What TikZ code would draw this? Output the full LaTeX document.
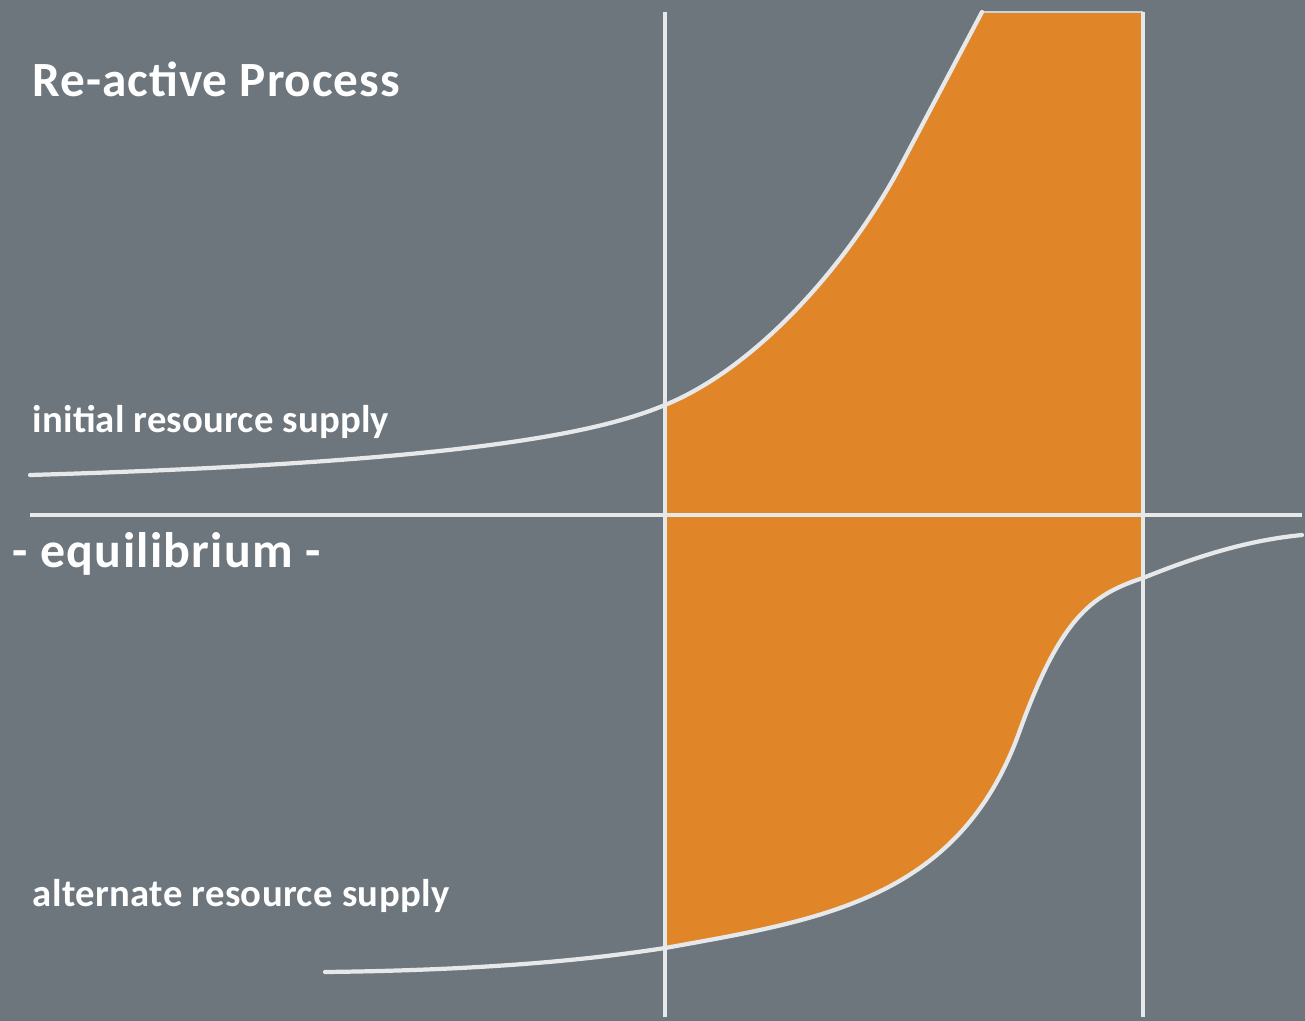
\documentclass[tikz,border=0pt]{standalone}
\usepackage{fontspec}
\setmainfont{Carlito}
\newfontfamily\titlefont[LetterSpace=2]{Carlito}
\newfontfamily\eqfont[LetterSpace=2.5]{Carlito}
\newfontfamily\labelfont[LetterSpace=0.5]{Carlito}
\newfontfamily\altfont[LetterSpace=1]{Carlito}
\definecolor{slate}{HTML}{6E767D}
\definecolor{amber}{HTML}{E08628}
\definecolor{rule}{HTML}{E6E8E9}
\begin{document}
\begin{tikzpicture}[x=0.01cm,y=-0.01cm,
  axis/.style={draw=rule,line width=1.1pt},
  supply/.style={draw=rule,line width=1.2pt,line cap=round},
  caption/.style={anchor=base west,inner sep=0pt,text=white}]
  % canvas
  \fill[slate] (0,0) rectangle (1305,1021);
  \useasboundingbox (0,0) rectangle (1305,1021);

  % reference points
  \coordinate (eqL) at (30,515);
  \coordinate (eqR) at (1302,515);
  \coordinate (v1t) at (665,12);
  \coordinate (v1b) at (665,1017);
  \coordinate (v2t) at (1143,12);
  \coordinate (v2b) at (1143,1017);
  \coordinate (upA) at (30,475);
  \coordinate (upB) at (665,405);
  \coordinate (upC) at (900,167);
  \coordinate (upD) at (982,12);
  \coordinate (loA) at (325,972);
  \coordinate (loB) at (665,948);
  \coordinate (loC) at (1020,730);
  \coordinate (loD) at (1143,578);
  \coordinate (loE) at (1302,535);

  % reaction region between the two supply curves
  \fill[amber] (upB) .. controls (760,366) and (850,260) .. (upC) -- (upD) -- (v2t)
    -- (loD) .. controls (1090,595) and (1060,620) .. (loC)
    .. controls (960,900) and (820,920) .. (loB) -- cycle;
  \draw[draw=rule!80!slate,line width=0.8pt] (upD) -- (v2t);

  % axes
  \draw[axis] (eqL) -- (eqR);
  \draw[axis] (v1t) -- (v1b);
  \draw[axis] (v2t) -- (v2b);

  % initial resource supply
  \draw[supply] (upA) .. controls (470,462) and (600,432) .. (upB)
    .. controls (760,366) and (850,260) .. (upC) -- (upD);

  % alternate resource supply
  \draw[supply] (loA) .. controls (500,970) and (600,958) .. (loB)
    .. controls (820,920) and (960,900) .. (loC)
    .. controls (1060,620) and (1090,595) .. (loD)
    .. controls (1200,555) and (1250,540) .. (loE);

  % labels
  \node[caption,font=\titlefont\bfseries\fontsize{14}{16}\selectfont] (title) at (32,97) {Re-active Process};
  \node[caption,font=\labelfont\bfseries\fontsize{11}{13}\selectfont] (initial) at (32,432) {initial resource supply};
  \node[caption,font=\eqfont\bfseries\fontsize{14.2}{16}\selectfont] (equil) at (12,567) {- equilibrium -};
  \node[caption,font=\altfont\bfseries\fontsize{11}{13}\selectfont] (alternate) at (32,906) {alternate resource supply};
\end{tikzpicture}
\end{document}
